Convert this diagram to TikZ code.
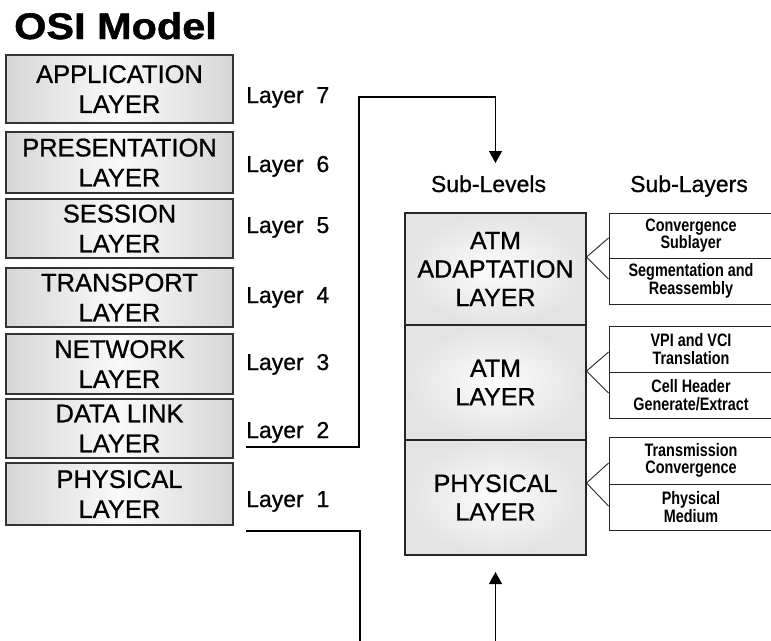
\documentclass[tikz,border=0pt]{standalone}
\usepackage{fontspec}
\setmainfont{Liberation Sans}[FakeBold=0.8]
\newfontfamily\boxfont{Liberation Sans}[FakeBold=0.8]
\newfontfamily\titlefont{Liberation Sans}[FakeStretch=1.12, FakeBold=1.2]
\newfontfamily\narrowfont{Liberation Sans}[FakeStretch=0.8]
\usetikzlibrary{arrows.meta}
\begin{document}
\begin{tikzpicture}[x=1pt,y=-1pt,
  osibox/.style={draw=black!80, line width=1.1pt, minimum width=227pt, inner sep=0pt,
    align=center, font=\boxfont\fontsize{25.5}{30}\selectfont,
    left color=black!16, right color=black!16, middle color=black!2},
  atmbox/.style={draw=black!85, line width=1.1pt, minimum width=181pt, inner sep=0pt,
    align=center, font=\boxfont\fontsize{25}{28.5}\selectfont,
    inner color=black!1, outer color=black!11},
  subbox/.style={draw=black!85, line width=0.9pt, minimum width=164pt, inner sep=0pt,
    align=center, fill=white, font=\narrowfont\bfseries\fontsize{18}{17.5}\selectfont},
  lbl/.style={anchor=base west, inner sep=0pt, font=\boxfont\fontsize{23}{23}\selectfont},
  hdr/.style={anchor=base, inner sep=0pt, font=\boxfont\fontsize{23}{23}\selectfont},
  conn/.style={draw=black, line width=1.3pt},
  bracket/.style={draw=black!85, line width=0.9pt}
]
\useasboundingbox (0,0) rectangle (771,640);

% title
\node[anchor=base west, inner sep=0pt, font=\titlefont\bfseries\fontsize{37}{37}\selectfont] (title) at (14,39) {OSI Model};

% OSI boxes
\node[osibox, minimum height=68pt] (app)  at (119.5,89)   {APPLICATION\\LAYER};
\node[osibox, minimum height=61pt] (pres) at (119.5,162.5) {PRESENTATION\\LAYER};
\node[osibox, minimum height=59pt] (sess) at (119.5,228.5) {SESSION\\LAYER};
\node[osibox, minimum height=59pt] (trans) at (119.5,297.5) {TRANSPORT\\LAYER};
\node[osibox, minimum height=60pt] (net)  at (119.5,364)   {NETWORK\\LAYER};
\node[osibox, minimum height=59pt] (dl)   at (119.5,428.5) {DATA LINK\\LAYER};
\node[osibox, minimum height=62pt] (phys) at (119.5,494)   {PHYSICAL\\LAYER};

% layer labels
\node[lbl] (l7) at (246,103) {Layer\ \ 7};
\node[lbl] (l6) at (246,172) {Layer\ \ 6};
\node[lbl] (l5) at (246,233) {Layer\ \ 5};
\node[lbl] (l4) at (246,303) {Layer\ \ 4};
\node[lbl] (l3) at (246,370) {Layer\ \ 3};
\node[lbl] (l2) at (246,438) {Layer\ \ 2};
\node[lbl] (l1) at (246,507) {Layer\ \ 1};

% headers
\node[hdr] (sublev) at (488.5,192) {Sub-Levels};
\node[hdr] (sublay) at (689,192) {Sub-Layers};

% ATM boxes
\node[atmbox, minimum height=112pt] (aal) at (495.5,269)   {ATM\\ADAPTATION\\LAYER};
\node[atmbox, minimum height=115pt] (atm) at (495.5,382.5) {ATM\\LAYER};
\node[atmbox, minimum height=115pt] (phy) at (495.5,497.5) {PHYSICAL\\LAYER};

% sub-layer boxes
\node[subbox, minimum height=45pt] (cs)  at (691,235.5) {Convergence\\Sublayer};
\node[subbox, minimum height=46pt] (sar) at (691,281)   {Segmentation and\\Reassembly};
\node[subbox, minimum height=46pt] (vpi) at (691,349)   {VPI and VCI\\Translation};
\node[subbox, minimum height=46pt] (chg) at (691,395)   {Cell Header\\Generate/Extract};
\node[subbox, minimum height=47pt] (tc)  at (691,460.5) {Transmission\\Convergence};
\node[subbox, minimum height=46pt] (pm)  at (691,507)   {Physical\\Medium};

% brackets
\draw[bracket] (cs.west |- 0,238) -- (aal.east |- 0,257) -- (sar.west |- 0,279);
\draw[bracket] (vpi.west |- 0,352) -- (atm.east |- 0,371) -- (chg.west |- 0,393);
\draw[bracket] (tc.west |- 0,463) -- (phy.east |- 0,483) -- (pm.west |- 0,506);

% connectors
\draw[conn, -{Triangle[length=12pt,width=13pt]}]
  (l2.west |- 0,447) -- (359,447) -- (359,97) -- (aal.north |- 0,97) -- (aal.north |- 0,163);
\draw[conn] (l1.west |- 0,531) -- (360,531) -- (360,645);
\draw[conn, -{Triangle[length=12pt,width=13pt]}] (phy.south |- 0,645) -- (phy.south |- 0,572);
\end{tikzpicture}
\end{document}
